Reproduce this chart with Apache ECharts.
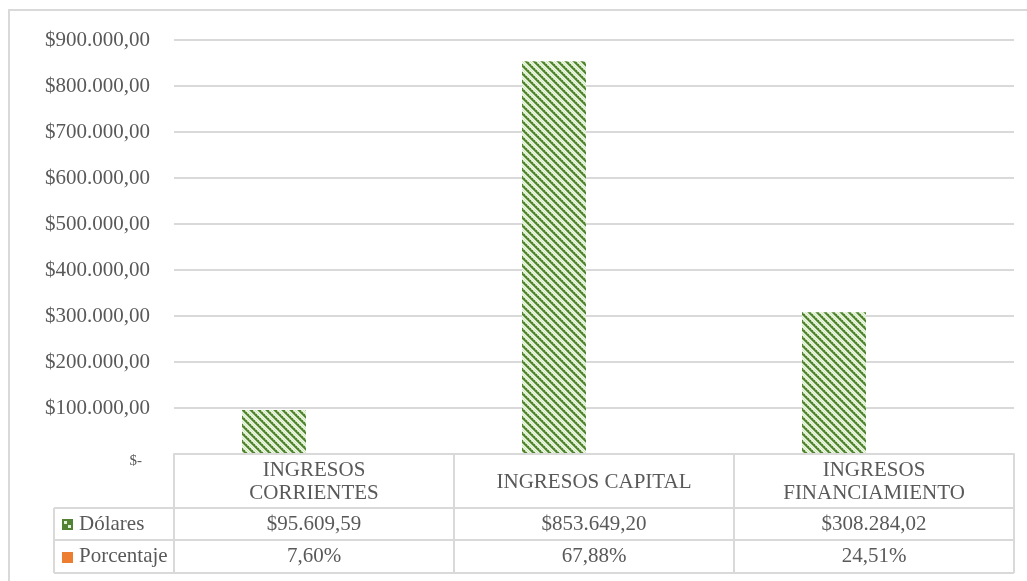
<!DOCTYPE html>
<html><head><meta charset="utf-8">
<script src="https://cdn.jsdelivr.net/npm/echarts@6/dist/echarts.min.js"></script>
<style>html,body{margin:0;padding:0;background:#fff}#c{width:1027px;height:581px}</style>
</head><body><div id="c"></div>
<script>
const categories = ['INGRESOS\nCORRIENTES', 'INGRESOS CAPITAL', 'INGRESOS\nFINANCIAMIENTO'];
const dolares = [95609.59, 853649.20, 308284.02];
const porcentaje = [7.60, 67.88, 24.51];
const dolaresLabels = ['$95.609,59', '$853.649,20', '$308.284,02'];
const porcentajeLabels = ['7,60%', '67,88%', '24,51%'];
const seriesNames = ['Dólares', 'Porcentaje'];

const FONT = '"Liberation Serif", "Times New Roman", serif';
const TXT = '#595959';
const LINE = '#d9d9d9';
const FS = 21;

function makePattern() {
  const c = document.createElement('canvas');
  c.width = 8; c.height = 8;
  const ctx = c.getContext('2d');
  for (let y = 0; y < 8; y++) for (let x = 0; x < 8; x++) {
    const d = ((x - y) % 8 + 8) % 8;
    let col;
    if (d < 2) col = '#548235';
    else if (d === 2) col = (x % 2 === 0) ? '#548235' : '#8fbc6a';
    else if (d === 7) col = '#a9d18e';
    else col = ((x + y) % 2 === 0) ? '#f4faef' : '#cfe6bd';
    ctx.fillStyle = col; ctx.fillRect(x, y, 1, 1);
  }
  return c;
}
const pattern = { image: makePattern(), repeat: 'repeat' };

function fmtMoney(v) {
  if (v === 0) return '{z|$-}';
  const s = (v).toFixed(2).split('.');
  const int = s[0].replace(/\B(?=(\d{3})+(?!\d))/g, '.');
  return '$' + int + ',' + s[1];
}

const chart = echarts.init(document.getElementById('c'));
const G = { left: 174, right: 13, top: 40, bottom: 127 };
chart.setOption({
  animation: false,
  grid: G,
  xAxis: {
    type: 'category', data: categories,
    axisLine: { show: true, lineStyle: { color: LINE, width: 2 } },
    axisTick: { show: false }, axisLabel: { show: false }
  },
  yAxis: {
    type: 'value', min: 0, max: 900000, interval: 100000,
    axisLine: { show: false }, axisTick: { show: false },
    splitLine: { lineStyle: { color: LINE, width: 2 } },
    axisLabel: {
      margin: 24, color: TXT, fontFamily: FONT, fontSize: FS,
      formatter: fmtMoney,
      rich: { z: { color: TXT, fontFamily: FONT, fontSize: 15, padding: [14, 8, 0, 0] } }
    }
  },
  series: [
    { name: seriesNames[0], type: 'bar', data: dolares, barWidth: 64, barGap: '25%',
      itemStyle: { color: pattern } },
    { name: seriesNames[1], type: 'bar', data: porcentaje.map(v => v / 100), barWidth: 64,
      itemStyle: { color: '#ed7d31' } }
  ]
});

function drawTable() {
  const W = 1027;
  const x0 = G.left, x1 = W - G.right;
  const n = categories.length;
  const cw = (x1 - x0) / n;
  const yTop = 454, yH = 508, yD = 540, yB = 573, xL = 54;
  const els = [];
  const ln = (ax, ay, bx, by) => els.push({ type: 'line', shape: { x1: ax, y1: ay, x2: bx, y2: by },
    style: { stroke: LINE, lineWidth: 2 }, z: 10 });
  els.push({ type: 'rect', shape: { x: 9, y: 10, width: 1040, height: 600 },
    style: { fill: 'none', stroke: LINE, lineWidth: 2 }, z: 1 });
  ln(x0, yTop, x1, yTop);
  ln(xL, yH, x1, yH); ln(xL, yD, x1, yD); ln(xL, yB, x1, yB);
  ln(xL, yH, xL, yB);
  for (let i = 0; i <= n; i++) ln(x0 + cw * i, yTop, x0 + cw * i, yB);
  const txt = (t, x, y, align) => els.push({ type: 'text', x: x, y: y, z: 11,
    style: { text: t, fill: TXT, font: FS + 'px ' + FONT, align: align || 'center', verticalAlign: 'middle', lineHeight: 23 } });
  for (let i = 0; i < n; i++) {
    const cx = x0 + cw * (i + 0.5);
    txt(categories[i], cx, (yTop + yH) / 2 + 1);
    txt(dolaresLabels[i], cx, (yH + yD) / 2);
    txt(porcentajeLabels[i], cx, (yD + yB) / 2);
  }
  els.push({ type: 'rect', shape: { x: 62, y: 519, width: 11, height: 11 }, style: { fill: '#548235' }, z: 11 });
  els.push({ type: 'rect', shape: { x: 64, y: 521, width: 3, height: 3 }, style: { fill: '#e2f0d9' }, z: 12 });
  els.push({ type: 'rect', shape: { x: 68, y: 525, width: 3, height: 3 }, style: { fill: '#e2f0d9' }, z: 12 });
  els.push({ type: 'rect', shape: { x: 62, y: 552, width: 11, height: 11 }, style: { fill: '#ed7d31' }, z: 11 });
  txt(seriesNames[0], 79, (yH + yD) / 2, 'left');
  txt(seriesNames[1], 79, (yD + yB) / 2, 'left');
  chart.setOption({ graphic: { elements: els } });
}
drawTable();
</script></body></html>
